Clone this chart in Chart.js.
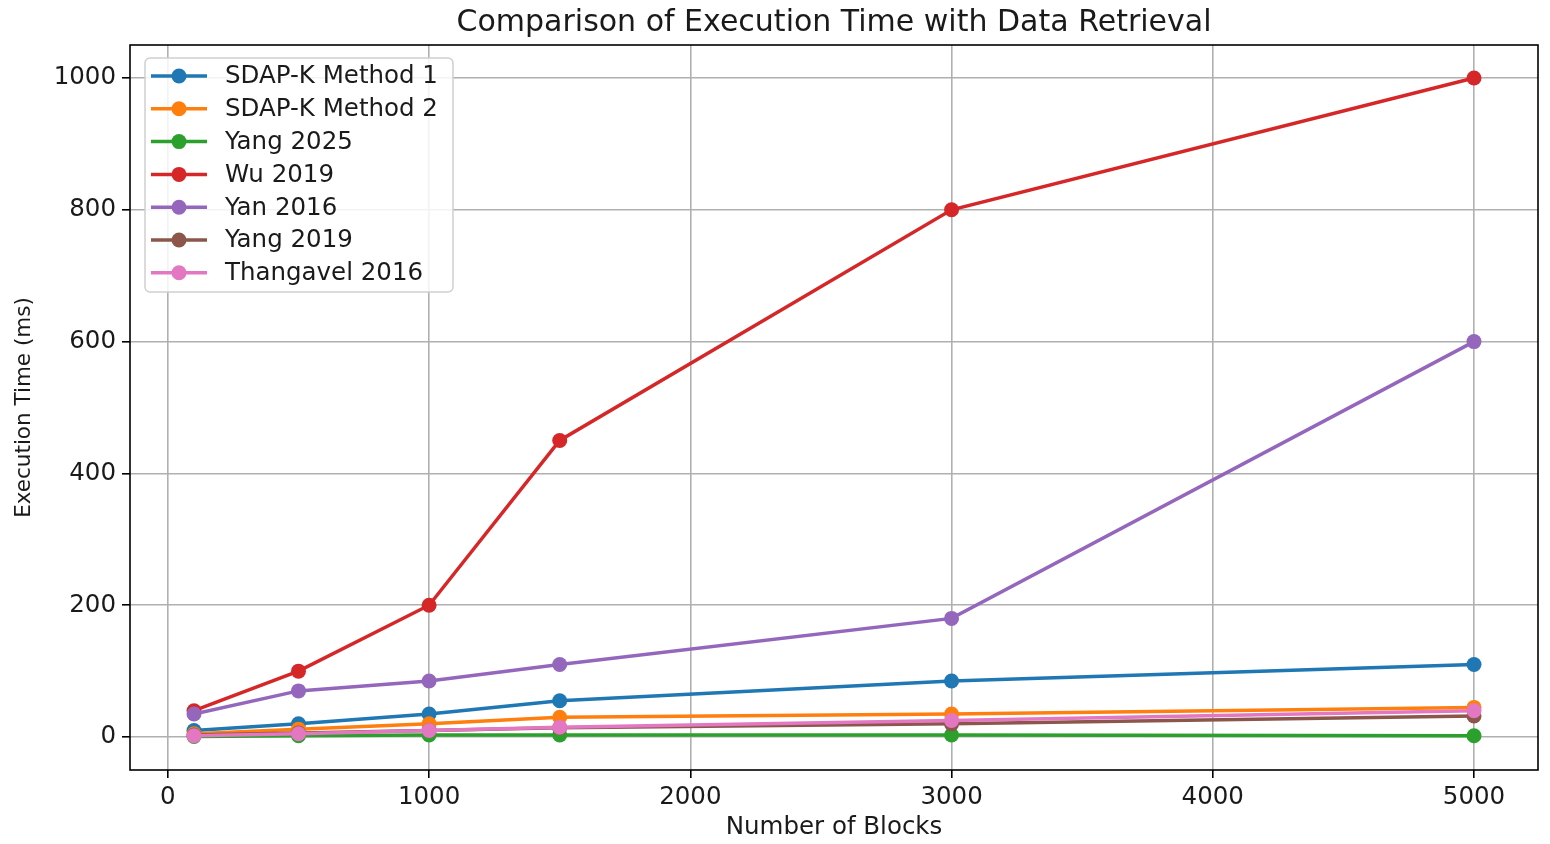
<!DOCTYPE html>
<html lang="en">
<head>
    <meta charset="UTF-8">
    <title>Comparison of Execution Time with Data Retrieval</title>
    <script src="https://cdn.jsdelivr.net/npm/chart.js@4.4.1/dist/chart.umd.min.js"></script>
    <style>
        html, body { margin: 0; padding: 0; background: #fff; }
        #wrap { width: 1550px; height: 844px; }
    </style>
</head>
<body>
    <div id="wrap"><canvas id="chart-exec"></canvas></div>

    <script>
        // data
        const blocks = [100, 500, 1000, 1500, 3000, 5000];
        const sdapK1 = [10, 20, 35, 55, 85, 110];
        const sdapK2 = [5, 12, 20, 30, 35, 45];
        const yang2025 = [1, 2, 3, 3, 3, 2];
        const wu2019 = [40, 100, 200, 450, 800, 1000];
        const yan2016 = [35, 70, 85, 110, 180, 600];
        const yang2019 = [3, 6, 10, 14, 20, 32];
        const thangavel2016 = [2, 5, 10, 15, 25, 40];

        const xTicks = [0, 1000, 2000, 3000, 4000, 5000];
        const yTicks = [0, 200, 400, 600, 800, 1000];

        const seriesNames = ['SDAP-K Method 1', 'SDAP-K Method 2', 'Yang 2025', 'Wu 2019', 'Yan 2016', 'Yang 2019', 'Thangavel 2016'];
        const seriesValues = [sdapK1, sdapK2, yang2025, wu2019, yan2016, yang2019, thangavel2016];
        const colors = ['#1f77b4', '#ff7f0e', '#2ca02c', '#d62728', '#9467bd', '#8c564b', '#e377c2'];

        const FONT = 'DejaVu Sans';
        const TEXT = '#1a1a1a';
        const TITLE = 'Comparison of Execution Time with Data Retrieval';

        const datasets = seriesNames.map((name, i) => ({
            label: name,
            data: blocks.map((b, j) => ({ x: b, y: seriesValues[i][j] })),
            borderColor: colors[i],
            backgroundColor: colors[i],
            borderWidth: 3.5,
            pointRadius: 7.5,
            pointHoverRadius: 7.5,
            pointBorderWidth: 0,
            tension: 0,
            order: seriesNames.length - i   // later series on top, like matplotlib
        }));

        // matplotlib style frame, title over the plot and legend inside it
        const framePlugin = {
            id: 'frameLegend',
            afterDraw(chart) {
                const ctx = chart.ctx;
                const a = chart.chartArea;
                ctx.save();
                ctx.strokeStyle = '#000';
                ctx.lineWidth = 1.6;
                ctx.strokeRect(a.left, a.top, a.right - a.left, a.bottom - a.top);

                ctx.fillStyle = TEXT;
                ctx.font = '30px "' + FONT + '"';
                ctx.textAlign = 'center';
                ctx.textBaseline = 'middle';
                ctx.fillText(TITLE, (a.left + a.right) / 2, 23);

                // legend box
                const bx = a.left + 15, by = a.top + 13, bw = 308, bh = 234;
                ctx.fillStyle = 'rgba(255,255,255,0.85)';
                ctx.strokeStyle = '#d0d0d0';
                ctx.lineWidth = 1.5;
                ctx.beginPath();
                ctx.roundRect(bx, by, bw, bh, 5);
                ctx.fill();
                ctx.stroke();

                ctx.font = '24.5px "' + FONT + '"';
                ctx.textAlign = 'left';
                chart.data.datasets.forEach((ds, i) => {
                    const cy = by + 18 + i * 32.8;
                    ctx.strokeStyle = ds.borderColor;
                    ctx.lineWidth = 3.5;
                    ctx.beginPath();
                    ctx.moveTo(bx + 6, cy);
                    ctx.lineTo(bx + 62, cy);
                    ctx.stroke();
                    ctx.fillStyle = ds.borderColor;
                    ctx.beginPath();
                    ctx.arc(bx + 34, cy, 7.5, 0, Math.PI * 2);
                    ctx.fill();
                    ctx.fillStyle = TEXT;
                    ctx.fillText(ds.label, bx + 80, cy + 1);
                });
                ctx.restore();
            }
        };

        const ctx = document.getElementById('chart-exec').getContext('2d');
        const execChart = new Chart(ctx, {
            type: 'line',
            data: { datasets: datasets },
            plugins: [framePlugin],
            options: {
                responsive: true,
                maintainAspectRatio: false,
                animation: false,
                layout: { padding: { left: 0, right: 12, top: 45, bottom: 0 } },
                plugins: {
                    legend: { display: false },
                    tooltip: { enabled: false },
                    title: { display: false }
                },
                scales: {
                    x: {
                        type: 'linear',
                        min: -145,
                        max: 5245,
                        afterBuildTicks: (scale) => { scale.ticks = xTicks.map(v => ({ value: v })); },
                        afterFit: (scale) => { scale.height = 74; },
                        grid: { color: '#b0b0b0', lineWidth: 1.6, tickLength: 8, tickColor: '#000' },
                        border: { display: false },
                        ticks: {
                            color: TEXT, font: { family: FONT, size: 24.5 }, padding: 5, maxRotation: 0,
                            callback: (v) => String(v)
                        },
                        title: {
                            display: true,
                            text: 'Number of Blocks',
                            color: TEXT,
                            font: { family: FONT, size: 24.5 },
                            padding: { top: 0, bottom: 2 }
                        }
                    },
                    y: {
                        type: 'linear',
                        min: -50,
                        max: 1050,
                        afterBuildTicks: (scale) => { scale.ticks = yTicks.map(v => ({ value: v })); },
                        afterFit: (scale) => { scale.width = 130; },
                        grid: { color: '#b0b0b0', lineWidth: 1.6, tickLength: 8, tickColor: '#000' },
                        border: { display: false },
                        ticks: {
                            color: TEXT, font: { family: FONT, size: 24.5 }, padding: 6,
                            callback: (v) => String(v)
                        },
                        title: {
                            display: true,
                            text: 'Execution Time (ms)',
                            color: TEXT,
                            font: { family: FONT, size: 21.5 },
                            padding: { top: 12, bottom: 6 }
                        }
                    }
                }
            }
        });
    </script>
</body>
</html>
